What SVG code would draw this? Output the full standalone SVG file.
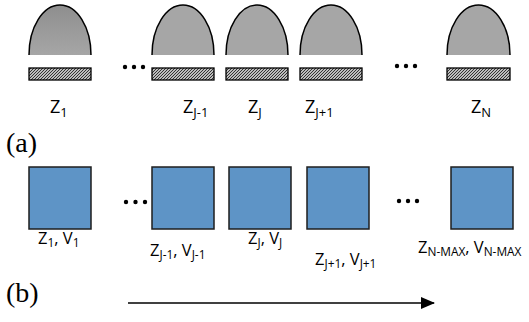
<svg xmlns="http://www.w3.org/2000/svg" width="529" height="322" viewBox="0 0 529 322">
<style>
.dome{fill:#a6a6a6;stroke:none}
.arc{fill:none;stroke:#000;stroke-width:1.5}
.bar{fill:url(#hatch);stroke:#000;stroke-width:1.3}
.sq{fill:#5e94c6;stroke:#1e1e1e;stroke-width:1.5}
.dot{fill:#000}
.lt{font-family:"Open Sans","Liberation Sans",sans-serif;font-size:18px;fill:#000}
.lb{font-family:"Open Sans","Liberation Sans",sans-serif;font-size:16.5px;fill:#000}
.sub{font-size:72%}
.cap{font-family:"Liberation Serif",serif;font-size:28px;fill:#000}
.conn{stroke:#000;stroke-width:1.5;fill:none}
</style>
<defs>
<pattern id="hatch" width="3" height="3" patternUnits="userSpaceOnUse">
<rect width="3" height="3" fill="#bdbdbd"/>
<path d="M0,3 L3,0 M-1,1 L1,-1 M2,4 L4,2" stroke="#333" stroke-width="1"/>
</pattern>
<linearGradient id="g1" x1="0" y1="0" x2="0" y2="1">
<stop offset="0" stop-color="#8e8e8e"/>
<stop offset="1" stop-color="#a6a6a6"/>
</linearGradient>
<marker id="ah" markerWidth="14" markerHeight="12" refX="13" refY="6" orient="auto" markerUnits="userSpaceOnUse">
<path d="M0,0 L14,6 L0,12 Z" fill="#000"/>
</marker>
</defs>

<g id="z1-a">
<path d="M29,55 A31,50 0 0 1 91,55 Z" class="dome" style="fill:url(#g1)"/>
<path d="M29,55 A31,50 0 0 1 91,55" class="arc"/>
<rect x="29" y="68" width="62" height="12" class="bar"/>
<text x="50" y="113" class="lt">Z<tspan class="sub" dy="4">1</tspan></text>
</g>
<g id="zj-1-a">
<path d="M152,55 A31,50 0 0 1 214,55 Z" class="dome"/>
<path d="M152,55 A31,50 0 0 1 214,55" class="arc"/>
<rect x="152" y="68" width="62" height="12" class="bar"/>
<text x="183" y="113" class="lt">Z<tspan class="sub" dy="4">J-1</tspan></text>
</g>
<g id="zj-a">
<path d="M226,55 A31,50 0 0 1 288,55 Z" class="dome"/>
<path d="M226,55 A31,50 0 0 1 288,55" class="arc"/>
<rect x="226" y="68" width="62" height="12" class="bar"/>
<text x="248" y="113" class="lt">Z<tspan class="sub" dy="4">J</tspan></text>
</g>
<g id="zj1-a">
<path d="M300,55 A31,50 0 0 1 362,55 Z" class="dome"/>
<path d="M300,55 A31,50 0 0 1 362,55" class="arc"/>
<rect x="300" y="68" width="62" height="12" class="bar"/>
<text x="305" y="113" class="lt">Z<tspan class="sub" dy="4">J+1</tspan></text>
</g>
<g id="zn-a">
<path d="M447,55 A31.5,50 0 0 1 510,55 Z" class="dome"/>
<path d="M447,55 A31.5,50 0 0 1 510,55" class="arc"/>
<rect x="447" y="68" width="63" height="12" class="bar"/>
<text x="471" y="113" class="lt">Z<tspan class="sub" dy="4">N</tspan></text>
</g>
<g id="dots-a">
<circle cx="125" cy="67" r="2.2" class="dot"/><circle cx="134" cy="67" r="2.2" class="dot"/><circle cx="143" cy="67" r="2.2" class="dot"/>
<circle cx="397" cy="66" r="2.2" class="dot"/><circle cx="406" cy="66" r="2.2" class="dot"/><circle cx="415" cy="66" r="2.2" class="dot"/>
</g>
<text x="6" y="152" class="cap">(a)</text>

<g id="z1-b">
<rect x="29" y="167" width="62" height="62" class="sq"/>
<text x="38" y="244" class="lb">Z<tspan class="sub" dy="3">1</tspan><tspan dy="-3">, V</tspan><tspan class="sub" dy="3">1</tspan></text>
</g>
<g id="zj-1-b">
<rect x="152" y="167" width="62" height="62" class="sq"/>
<text x="150" y="256" class="lb">Z<tspan class="sub" dy="3">J-1</tspan><tspan dy="-3">, V</tspan><tspan class="sub" dy="3">J-1</tspan></text>
</g>
<g id="zj-b">
<rect x="229" y="167" width="62" height="62" class="sq"/>
<text x="248" y="244" class="lb">Z<tspan class="sub" dy="3">J</tspan><tspan dy="-3">, V</tspan><tspan class="sub" dy="3">J</tspan></text>
</g>
<g id="zj1-b">
<rect x="307" y="167" width="62" height="62" class="sq"/>
<text x="315" y="265" class="lb">Z<tspan class="sub" dy="3">J+1</tspan><tspan dy="-3">, V</tspan><tspan class="sub" dy="3">J+1</tspan></text>
</g>
<g id="zn-b">
<rect x="451" y="167" width="62" height="62" class="sq"/>
<text x="418" y="253" class="lb">Z<tspan class="sub" dy="3">N-MAX</tspan><tspan dy="-3">, V</tspan><tspan class="sub" dy="3">N-MAX</tspan></text>
</g>
<g id="dots-b">
<circle cx="126" cy="202" r="2.2" class="dot"/><circle cx="135.5" cy="202" r="2.2" class="dot"/><circle cx="145" cy="202" r="2.2" class="dot"/>
<circle cx="399" cy="201" r="2.2" class="dot"/><circle cx="408" cy="201" r="2.2" class="dot"/><circle cx="417" cy="201" r="2.2" class="dot"/>
</g>
<text x="6" y="302" class="cap">(b)</text>

<g id="connectors">
<line x1="128" y1="303" x2="434" y2="303" class="conn" marker-end="url(#ah)"/>
</g>
</svg>
